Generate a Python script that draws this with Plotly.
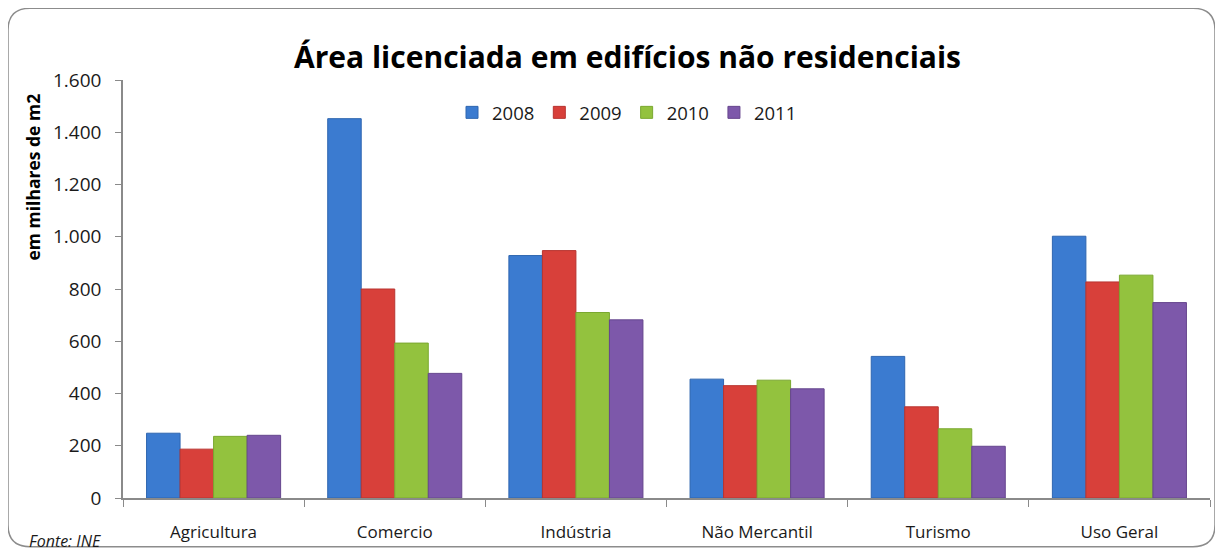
import plotly.graph_objects as go

# dados (milhares de m2)
categorias = ['Agricultura', 'Comercio', 'Indústria', 'Não Mercantil', 'Turismo', 'Uso Geral']
anos = ['2008', '2009', '2010', '2011']
v2008 = [248, 1452, 928, 455, 542, 1002]
v2009 = [187, 800, 947, 430, 349, 827]
v2010 = [236, 593, 710, 451, 265, 853]
v2011 = [240, 477, 682, 418, 198, 748]
y_ticks = [0, 200, 400, 600, 800, 1000, 1200, 1400, 1600]

cores = ['#3b7bd0', '#d8403a', '#93c23e', '#7d58aa']
bordas = ['#2f66b0', '#b83430', '#7aa830', '#66468e']

fig = go.Figure()
for ano, vals, cor, borda in zip(anos, [v2008, v2009, v2010, v2011], cores, bordas):
    fig.add_trace(go.Bar(name=ano, x=categorias, y=vals,
                         marker=dict(color=cor, line=dict(color=borda, width=1))))

# a página tem margem de 8px no body: coordenadas da referência menos 8
OFF = 8
W, H = 1223 - OFF, 555 - OFF
L, R, T, B = 123 - OFF, 1223 - 1210, 80 - OFF, 555 - 500
pw, ph = W - L - R, H - T - B


def px(x, y):
    return (x - OFF - L) / pw, (H - B - (y - OFF)) / ph


def P(x, y):
    a, b = px(x, y)
    return f'{a:.5f},{b:.5f}'


# moldura arredondada
x0, y0, x1, y1, r = 8, 8, 1215, 549, 22
path = (f'M {P(x0 + r, y0)} L {P(x1 - r, y0)} Q {P(x1, y0)} {P(x1, y0 + r)} '
        f'L {P(x1, y1 - r)} Q {P(x1, y1)} {P(x1 - r, y1)} '
        f'L {P(x0 + r, y1)} Q {P(x0, y1)} {P(x0, y1 - r)} '
        f'L {P(x0, y0 + r)} Q {P(x0, y0)} {P(x0 + r, y0)} Z')

fig.update_layout(
    width=W, height=H,
    margin=dict(l=L, r=R, t=T, b=B),
    paper_bgcolor='white', plot_bgcolor='white',
    font=dict(family='Open Sans, sans-serif', size=17, color='#1a1a1a'),
    separators=',.',
    barmode='group', bargap=0.26, bargroupgap=0,
    legend=dict(orientation='h', x=px(627, 0)[0], xanchor='center', y=px(0, 113)[1], yanchor='middle',
                font=dict(size=18.5), itemwidth=30, traceorder='normal',
                bgcolor='rgba(0,0,0,0)'),
    xaxis=dict(showline=True, linecolor='#8a8a8a', linewidth=1.5,
               ticks='outside', tickson='boundaries', ticklen=7, tickcolor='#8a8a8a',
               tickfont=dict(size=17), ticklabelstandoff=18, showgrid=False),
    yaxis=dict(range=[0, 1600], tickvals=y_ticks, tickformat=',d',
               showline=True, linecolor='#8a8a8a', linewidth=1.5,
               ticks='outside', ticklen=6, tickcolor='#8a8a8a',
               tickfont=dict(size=19), ticklabelstandoff=10, showgrid=False, zeroline=False),
    shapes=[dict(type='path', path=path, xref='paper', yref='paper',
                 line=dict(color='#8c8c8c', width=1.5), layer='below')],
    annotations=[
        dict(text='<b>Área licenciada em edifícios não residenciais</b>', xref='paper', yref='paper',
             x=px(627, 0)[0], y=px(0, 56)[1], xanchor='center', yanchor='middle',
             showarrow=False, font=dict(size=30, color='#000')),
        dict(text='<b>em milhares de m2</b>', textangle=-90, xref='paper', yref='paper',
             x=px(33, 0)[0], y=px(0, 178)[1], xanchor='center', yanchor='middle',
             showarrow=False, font=dict(size=17.5, color='#000')),
        dict(text='<i>Fonte: INE</i>', xref='paper', yref='paper',
             x=px(27, 0)[0], y=px(0, 543)[1], xanchor='left', yanchor='middle',
             showarrow=False, font=dict(size=16, color='#1a1a1a')),
    ],
)

fig.write_html('out.html')
